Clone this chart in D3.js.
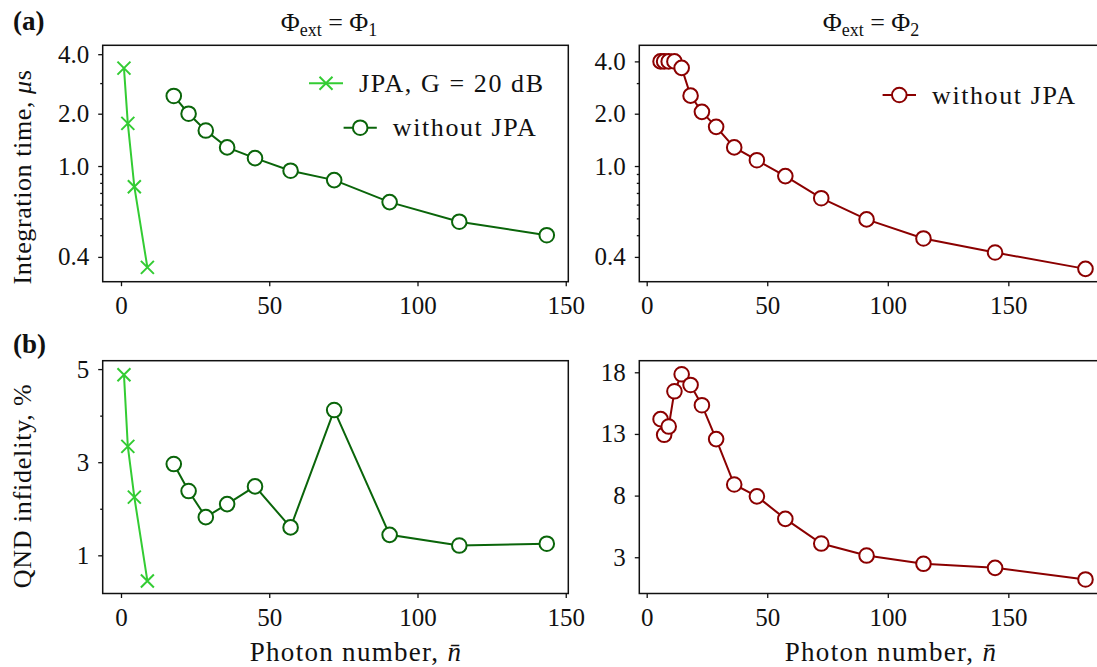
<html>
<head>
<script src="https://d3js.org/d3.v7.min.js"></script>
<style>
  body { margin: 0; background: #fff; }
</style>
</head>
<body>
<div id="chart"></div>
<script>
// ---- data ----
// left column: Phi_ext = Phi_1
var nJPA    = [1.0, 2.3, 4.5, 8.9];
var tJPA    = [3.66, 1.76, 0.76, 0.261];
var qJPA    = [4.88, 3.34, 2.25, 0.45];
var nNoJPA1 = [17.8, 22.8, 28.6, 35.8, 45.2, 57.2, 71.9, 90.6, 114.1, 143.6];
var tNoJPA1 = [2.53, 2.0, 1.6, 1.28, 1.11, 0.94, 0.83, 0.62, 0.478, 0.40];
var qNoJPA1 = [2.96, 2.38, 1.82, 2.10, 2.48, 1.60, 4.12, 1.44, 1.21, 1.25];
// right column: Phi_ext = Phi_2
var nNoJPA2 = [5.75, 7.24, 9.12, 11.5, 14.5, 18.2, 22.9, 28.8, 36.3, 45.7, 57.5, 72.4, 91.2, 114.8, 144.5, 182];
var tNoJPA2 = [4.0, 4.0, 4.0, 4.0, 3.67, 2.54, 2.05, 1.68, 1.28, 1.08, 0.875, 0.653, 0.493, 0.383, 0.318, 0.256];
var qNoJPA2 = [14.2, 12.93, 13.6, 16.46, 17.84, 16.97, 15.33, 12.58, 8.9, 7.94, 6.11, 4.11, 3.14, 2.47, 2.14, 1.2];

// ticks
var xTicks = [0, 50, 100, 150];
var tTickValsL = [4.4, 2, 1, 0.3];
var tTickValsR = [4, 2, 1, 0.3];
var tTickLabels = ["4.0", "2.0", "1.0", "0.4"];
var tMinor = [3, 0.9, 0.8, 0.7, 0.6, 0.5, 0.4];
var qTicksL = [5, 3, 1];
var qMinorL = [4, 2];
var qTicksR = [18, 13, 8, 3];

var lightGreen = "#33cc33", darkGreen = "#0a650a", darkRed = "#8b0000";
var serif = "'Liberation Serif', 'Times New Roman', serif";

var width = 1097, height = 667;
var svg = d3.select("#chart").append("svg")
  .attr("width", width).attr("height", height)
  .attr("font-family", serif).style("font-family", serif);

var colL = [102.7, 568.3], colR = [639.3, 1106.7];
var rowT = [45.3, 281.7], rowB = [360.7, 593.5];

var xL = d3.scaleLinear().domain([-6.17, 150.86]).range(colL);
var xR = d3.scaleLinear().domain([-3.07, 190.8]).range(colR);
var yT = d3.scaleLog().domain([0.216, 4.95]).range([rowT[1], rowT[0]]);
var yBL = d3.scaleLinear().domain([0.18, 5.18]).range([rowB[1], rowB[0]]);
var yBR = d3.scaleLinear().domain([0.06, 18.94]).range([rowB[1], rowB[0]]);

function drawAxes(x, y, yVals, yFmt, yMinor) {
  var g = svg.append("g");
  var bottom = y.range()[0];
  var left = x.range()[0];

  g.append("g").attr("transform", "translate(0," + bottom + ")")
    .call(d3.axisBottom(x).tickValues(xTicks).tickSize(4.5).tickPadding(10)
      .tickFormat(d3.format("d")));
  g.append("g").attr("transform", "translate(" + left + ",0)")
    .call(d3.axisLeft(y).tickValues(yVals).tickSize(4.5).tickPadding(9)
      .tickFormat(yFmt));
  if (yMinor) {
    g.append("g").attr("transform", "translate(" + left + ",0)")
      .call(d3.axisLeft(y).tickValues(yMinor).tickSize(2.5).tickFormat(""));
  }
  g.selectAll("g").attr("font-family", serif).attr("font-size", 25);
  g.selectAll(".domain").remove();
  g.selectAll(".tick line").attr("stroke", "#111").attr("stroke-width", 1.3);
  g.selectAll(".tick text").attr("fill", "#111").style("font-family", serif);

  g.append("rect")
    .attr("x", left).attr("y", y.range()[1])
    .attr("width", x.range()[1] - left)
    .attr("height", bottom - y.range()[1])
    .attr("fill", "none").attr("stroke", "#111").attr("stroke-width", 1.5);
}

function drawLine(x, y, xs, ys, color) {
  var pts = xs.map(function(d, i) { return [d, ys[i]]; });
  svg.append("path")
    .datum(pts)
    .attr("d", d3.line().x(function(d) { return x(d[0]); }).y(function(d) { return y(d[1]); }))
    .attr("fill", "none").attr("stroke", color).attr("stroke-width", 2);
  return pts;
}

function circles(x, y, xs, ys, color) {
  var pts = drawLine(x, y, xs, ys, color);
  svg.append("g").selectAll("circle").data(pts).enter().append("circle")
    .attr("cx", function(d) { return x(d[0]); })
    .attr("cy", function(d) { return y(d[1]); })
    .attr("r", 7.3)
    .attr("fill", "white").attr("stroke", color).attr("stroke-width", 2);
}

function crosses(x, y, xs, ys, color) {
  var pts = drawLine(x, y, xs, ys, color);
  var s = 6.5;
  svg.append("g").selectAll("path.x").data(pts).enter().append("path")
    .attr("d", function(d) {
      var cx = x(d[0]), cy = y(d[1]);
      return "M" + (cx - s) + "," + (cy - s) + "L" + (cx + s) + "," + (cy + s) +
             "M" + (cx - s) + "," + (cy + s) + "L" + (cx + s) + "," + (cy - s);
    })
    .attr("fill", "none").attr("stroke", color).attr("stroke-width", 2);
}

var fmtT = function(d, i) { return tTickLabels[i]; };

drawAxes(xL, yT, tTickValsL, fmtT, tMinor);
drawAxes(xR, yT, tTickValsR, fmtT, tMinor);
drawAxes(xL, yBL, qTicksL, d3.format("d"), qMinorL);
drawAxes(xR, yBR, qTicksR, d3.format("d"), null);

crosses(xL, yT, nJPA, tJPA, lightGreen);
circles(xL, yT, nNoJPA1, tNoJPA1, darkGreen);
circles(xR, yT, nNoJPA2, tNoJPA2, darkRed);
crosses(xL, yBL, nJPA, qJPA, lightGreen);
circles(xL, yBL, nNoJPA1, qNoJPA1, darkGreen);
circles(xR, yBR, nNoJPA2, qNoJPA2, darkRed);

// legends
function legendEntry(x1, x2, y, color, kind, label) {
  svg.append("line").attr("x1", x1).attr("x2", x2).attr("y1", y).attr("y2", y)
    .attr("stroke", color).attr("stroke-width", 2);
  var cx = (x1 + x2) / 2;
  if (kind === "o") {
    svg.append("circle").attr("cx", cx).attr("cy", y).attr("r", 7.3)
      .attr("fill", "white").attr("stroke", color).attr("stroke-width", 2);
  } else {
    var s = 6.5;
    svg.append("path")
      .attr("d", "M" + (cx - s) + "," + (y - s) + "L" + (cx + s) + "," + (y + s) +
                 "M" + (cx - s) + "," + (y + s) + "L" + (cx + s) + "," + (y - s))
      .attr("stroke", color).attr("stroke-width", 2);
  }
  svg.append("text").attr("x", x2 + 16).attr("y", y + 8.5)
    .attr("font-size", 26).attr("letter-spacing", 1.6).attr("fill", "#111").text(label);
}
legendEntry(309, 343, 83.3, lightGreen, "x", "JPA, G = 20 dB");
legendEntry(343.6, 376.8, 127.7, darkGreen, "o", "without JPA");
legendEntry(882.6, 916, 95, darkRed, "o", "without JPA");

// column titles
function title(cx, sub) {
  var t = svg.append("text").attr("x", cx).attr("y", 31).attr("text-anchor", "middle")
    .attr("font-size", 26).attr("fill", "#111");
  t.append("tspan").text("Φ");
  t.append("tspan").attr("dy", 5).attr("font-size", 18).text("ext");
  t.append("tspan").attr("dy", -5).text(" = Φ");
  t.append("tspan").attr("dy", 5).attr("font-size", 18).text(sub);
}
title(329, "1");
title(871, "2");

// panel letters
svg.append("text").attr("x", 13).attr("y", 30).attr("font-size", 27)
  .attr("font-weight", "bold").attr("fill", "#111").text("(a)");
svg.append("text").attr("x", 13).attr("y", 353).attr("font-size", 27)
  .attr("font-weight", "bold").attr("fill", "#111").text("(b)");

// y labels
var yl1 = svg.append("text").attr("transform", "translate(31,177) rotate(-90)")
  .attr("text-anchor", "middle").attr("font-size", 26).attr("letter-spacing", 0.6)
  .attr("fill", "#111");
yl1.append("tspan").text("Integration time,  ");
yl1.append("tspan").attr("font-style", "italic").text("μ");
yl1.append("tspan").text("s");

svg.append("text").attr("transform", "translate(31,486) rotate(-90)")
  .attr("text-anchor", "middle").attr("font-size", 26).attr("letter-spacing", 0.8)
  .attr("fill", "#111").text("QND infidelity,  %");

// x labels
[356, 891].forEach(function(cx) {
  var t = svg.append("text").attr("x", cx).attr("y", 661).attr("text-anchor", "middle")
    .attr("font-size", 27).attr("letter-spacing", 1.3).attr("fill", "#111");
  t.append("tspan").text("Photon number,  ");
  t.append("tspan").attr("font-style", "italic").text("n\u0304");
});
</script>
</body>
</html>
